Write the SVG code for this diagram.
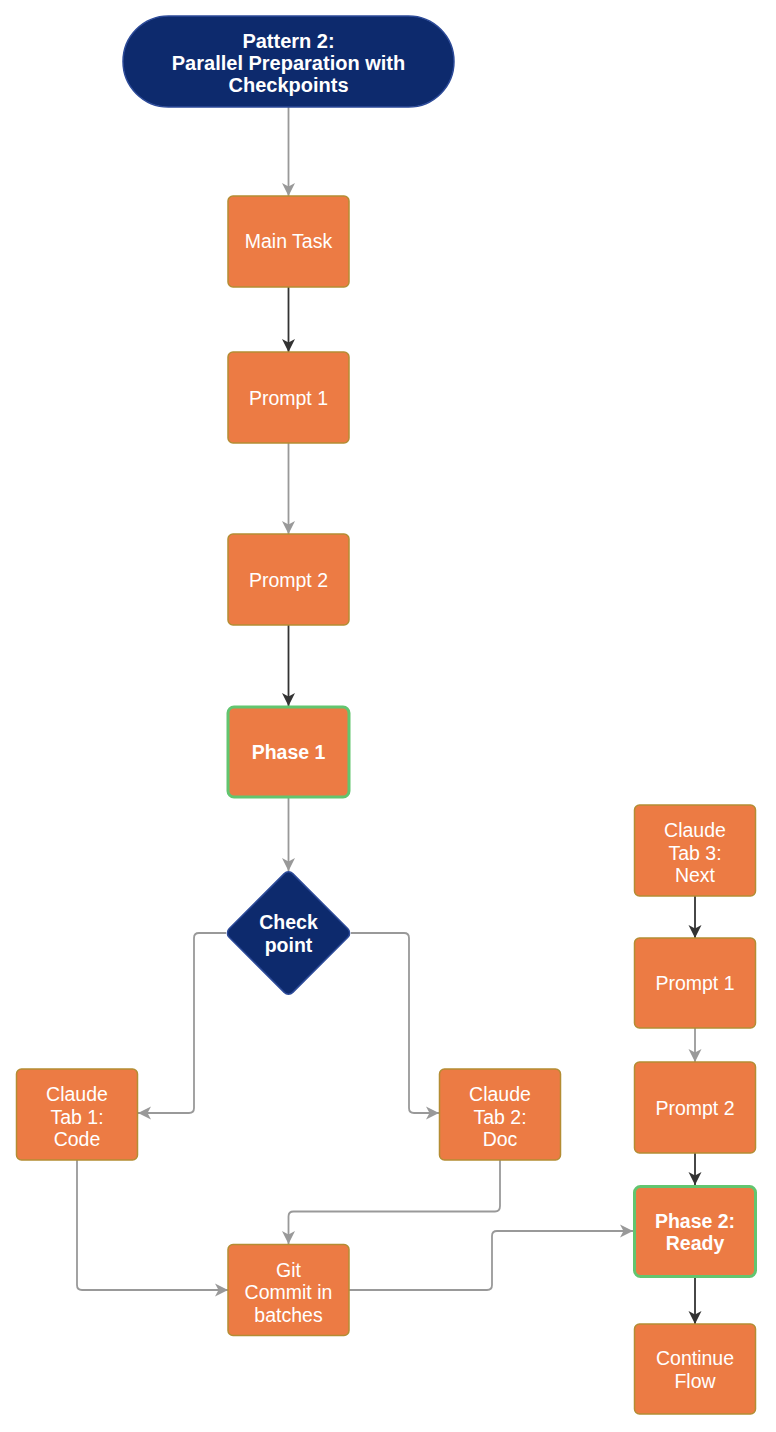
<svg xmlns="http://www.w3.org/2000/svg" width="776" height="1432" viewBox="0 0 776 1432">
<style>
.node{fill:#EC7B44;stroke:#B48D33;stroke-width:1.5}
.phase{fill:#EC7B44;stroke:#62C56F;stroke-width:3}
.navy{fill:#0D2A6D;stroke:#2C4A98;stroke-width:1.5}
text{font-family:"Liberation Sans",Arial,sans-serif;font-size:19.5px;fill:#FFFFFF;text-anchor:middle}
.b{font-weight:bold}
.t{font-size:20px;font-weight:bold}
.g{fill:none;stroke:#999999;stroke-width:1.8}
.d{fill:none;stroke:#333333;stroke-width:1.8}
</style>
<defs>
<marker id="ag" markerUnits="userSpaceOnUse" markerWidth="14" markerHeight="14" viewBox="0 0 14 14" refX="13" refY="7" orient="auto"><path d="M0,0.5 L13,7 L0,13.5 L3.5,7 z" fill="#999999"/></marker>
<marker id="ad" markerUnits="userSpaceOnUse" markerWidth="14" markerHeight="14" viewBox="0 0 14 14" refX="13" refY="7" orient="auto"><path d="M0,0.5 L13,7 L0,13.5 L3.5,7 z" fill="#333333"/></marker>
</defs>
<rect width="776" height="1432" fill="#FFFFFF"/>
<g id="connectors">
<path class="g" marker-end="url(#ag)" d="M288.5,107 V196"/>
<path class="d" marker-end="url(#ad)" d="M288.5,287 V352"/>
<path class="g" marker-end="url(#ag)" d="M288.5,443 V534"/>
<path class="d" marker-end="url(#ad)" d="M288.5,625 V706"/>
<path class="g" marker-end="url(#ag)" d="M288.5,798 V871"/>
<path class="g" marker-end="url(#ag)" d="M226,933 H199 Q194,933 194,938 V1108 Q194,1113 189,1113 H138"/>
<path class="g" marker-end="url(#ag)" d="M351,933 H404 Q409,933 409,938 V1108 Q409,1113 414,1113 H439"/>
<path class="g" marker-end="url(#ag)" d="M77,1160 V1285 Q77,1290 82,1290 H228"/>
<path class="g" marker-end="url(#ag)" d="M500,1160 V1206 Q500,1211.5 495,1211.5 H293.5 Q288.5,1211.5 288.5,1216.5 V1244"/>
<path class="g" marker-end="url(#ag)" d="M349,1290 H487 Q492,1290 492,1285 V1236 Q492,1231 497,1231 H633"/>
<path class="d" marker-end="url(#ad)" d="M695,896 V938"/>
<path class="g" marker-end="url(#ag)" d="M695,1028 V1062"/>
<path class="d" marker-end="url(#ad)" d="M695,1153 V1185"/>
<path class="d" marker-end="url(#ad)" d="M695,1278 V1324"/>
</g>
<g id="title">
<rect class="navy" x="123" y="16" width="331" height="91" rx="45.5"/>
<text class="t" x="288.5" y="47.5">Pattern 2:</text>
<text class="t" x="288.5" y="69.7">Parallel Preparation with</text>
<text class="t" x="288.5" y="92.3">Checkpoints</text>
</g>
<g id="main-task">
<rect class="node" x="228" y="196" width="121" height="91" rx="5"/>
<text x="288.5" y="248">Main Task</text>
</g>
<g id="prompt1">
<rect class="node" x="228" y="352" width="121" height="91" rx="5"/>
<text x="288.5" y="404.5">Prompt 1</text>
</g>
<g id="prompt2">
<rect class="node" x="228" y="534" width="121" height="91" rx="5"/>
<text x="288.5" y="586.5">Prompt 2</text>
</g>
<g id="phase1">
<rect class="phase" x="228" y="707" width="121" height="90" rx="6"/>
<text class="b" x="288.5" y="759">Phase 1</text>
</g>
<g id="checkpoint">
<rect class="navy" x="243.5" y="888" width="90" height="90" rx="6" transform="rotate(45 288.5 933)"/>
<text class="b" x="288.5" y="929">Check</text>
<text class="b" x="288.5" y="952">point</text>
</g>
<g id="tab1">
<rect class="node" x="16.5" y="1069" width="121" height="91" rx="5"/>
<text x="77" y="1101">Claude</text>
<text x="77" y="1123.5">Tab 1:</text>
<text x="77" y="1146">Code</text>
</g>
<g id="tab2">
<rect class="node" x="439.5" y="1069" width="121" height="91" rx="5"/>
<text x="500" y="1101">Claude</text>
<text x="500" y="1123.5">Tab 2:</text>
<text x="500" y="1146">Doc</text>
</g>
<g id="git">
<rect class="node" x="228" y="1244.5" width="121" height="91" rx="5"/>
<text x="288.5" y="1276.5">Git</text>
<text x="288.5" y="1299">Commit in</text>
<text x="288.5" y="1321.5">batches</text>
</g>
<g id="tab3">
<rect class="node" x="634.5" y="805" width="121" height="91" rx="5"/>
<text x="695" y="837">Claude</text>
<text x="695" y="859.5">Tab 3:</text>
<text x="695" y="882">Next</text>
</g>
<g id="prompt1b">
<rect class="node" x="634.5" y="938" width="121" height="90" rx="5"/>
<text x="695" y="990">Prompt 1</text>
</g>
<g id="prompt2b">
<rect class="node" x="634.5" y="1062" width="121" height="91" rx="5"/>
<text x="695" y="1114.5">Prompt 2</text>
</g>
<g id="phase2">
<rect class="phase" x="634.5" y="1186.5" width="121" height="90" rx="6"/>
<text class="b" x="695" y="1227.5">Phase 2:</text>
<text class="b" x="695" y="1250">Ready</text>
</g>
<g id="continue">
<rect class="node" x="634.5" y="1324" width="121" height="90" rx="5"/>
<text x="695" y="1365">Continue</text>
<text x="695" y="1387.5">Flow</text>
</g>
</svg>
